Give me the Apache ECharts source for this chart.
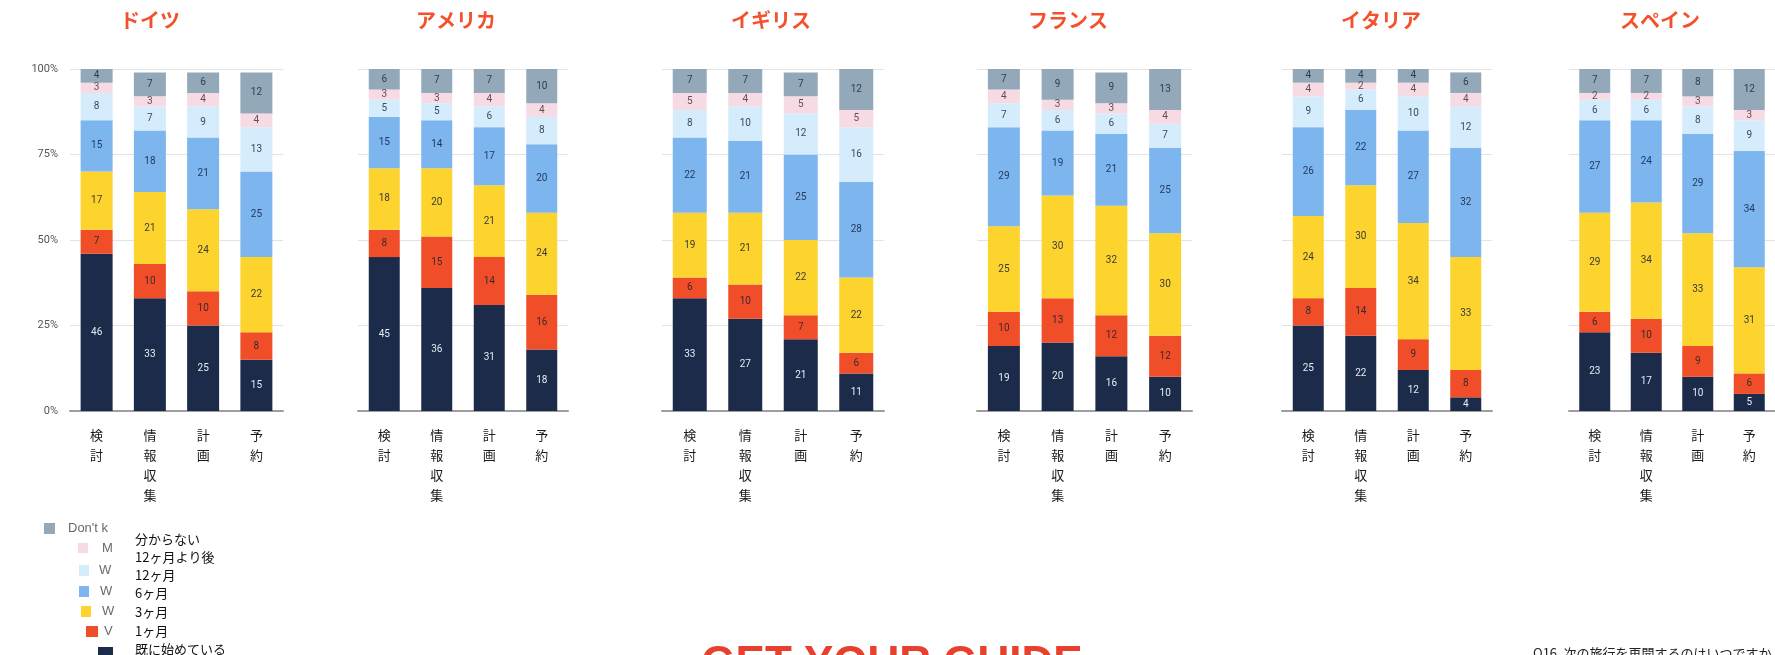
<!DOCTYPE html>
<html>
<head>
<meta charset="utf-8">
<script src="https://cdn.jsdelivr.net/npm/echarts@6/dist/echarts.min.js"></script>
<style>
  html, body { margin: 0; padding: 0; background: #ffffff; }
  #chart { width: 1775px; height: 655px; }
</style>
</head>
<body>
<div id="chart"></div>
<script>
// Survey: when will you resume your next trip, by country and by travel stage (%)
const countries = ['ドイツ', 'アメリカ', 'イギリス', 'フランス', 'イタリア', 'スペイン'];
const stages = ['検討', '情報収集', '計画', '予約'];
const timing = ['既に始めている', '1ヶ月', '3ヶ月', '6ヶ月', '12ヶ月', '12ヶ月より後', '分からない'];
const yTicks = [0, 25, 50, 75, 100];

// Each row: one answer (same order as timing), values for 検討 / 情報収集 / 計画 / 予約
const germany = [
  [46, 33, 25, 15],
  [7, 10, 10, 8],
  [17, 21, 24, 22],
  [15, 18, 21, 25],
  [8, 7, 9, 13],
  [3, 3, 4, 4],
  [4, 7, 6, 12]
];
const usa = [
  [45, 36, 31, 18],
  [8, 15, 14, 16],
  [18, 20, 21, 24],
  [15, 14, 17, 20],
  [5, 5, 6, 8],
  [3, 3, 4, 4],
  [6, 7, 7, 10]
];
const uk = [
  [33, 27, 21, 11],
  [6, 10, 7, 6],
  [19, 21, 22, 22],
  [22, 21, 25, 28],
  [8, 10, 12, 16],
  [5, 4, 5, 5],
  [7, 7, 7, 12]
];
const france = [
  [19, 20, 16, 10],
  [10, 13, 12, 12],
  [25, 30, 32, 30],
  [29, 19, 21, 25],
  [7, 6, 6, 7],
  [4, 3, 3, 4],
  [7, 9, 9, 13]
];
const italy = [
  [25, 22, 12, 4],
  [8, 14, 9, 8],
  [24, 30, 34, 33],
  [26, 22, 27, 32],
  [9, 6, 10, 12],
  [4, 2, 4, 4],
  [4, 4, 4, 6]
];
const spain = [
  [23, 17, 10, 5],
  [6, 10, 9, 6],
  [29, 34, 33, 31],
  [27, 24, 29, 34],
  [6, 6, 8, 9],
  [2, 2, 3, 3],
  [7, 7, 8, 12]
];
const countryData = [germany, usa, uk, france, italy, spain];

// Legend fragments of the English key sitting behind the Japanese one
const englishKey = ["Don't k", 'M', 'W', 'W', 'W', 'V'];

const colors = ['#1c2b4a', '#f04e28', '#fdd32e', '#7db5ee', '#d4ecfb', '#f6dbe4', '#93a8b8'];
const labelColors = ['#e6ebf2', '#3a2a30', '#3a3a3a', '#233a5e', '#3a4a60', '#6a4a55', '#2e3d55'];

const JP = '"Noto Sans CJK JP", "Noto Sans", sans-serif';

// Panel placement (pixels)
const panels = [
  { left: 70, right: 283, title: 150, barW: 32 },
  { left: 358, right: 568, title: 456, barW: 31 },
  { left: 662, right: 884, title: 771, barW: 34 },
  { left: 977, right: 1192, title: 1068, barW: 32 },
  { left: 1282, right: 1492, title: 1381, barW: 31 },
  { left: 1569, right: 1775, title: 1660, barW: 31 }
];
const gridTop = 69, gridHeight = 342;

const grid = [], xAxis = [], yAxis = [], series = [], graphic = [];

panels.forEach((p, i) => {
  grid.push({ left: p.left, top: gridTop, width: p.right - p.left, height: gridHeight });
  xAxis.push({
    type: 'category',
    gridIndex: i,
    data: stages,
    axisLine: { show: true, lineStyle: { color: '#9e9e9e', width: 2 } },
    axisTick: { show: false },
    axisLabel: {
      interval: 0,
      margin: 14,
      color: '#1a1a1a',
      fontSize: 13,
      lineHeight: 20,
      fontFamily: JP,
      formatter: v => v.split('').join('\n')
    }
  });
  yAxis.push({
    type: 'value',
    gridIndex: i,
    min: 0,
    max: 100,
    interval: 25,
    axisLine: { show: false },
    axisTick: { show: false },
    splitLine: { show: true, lineStyle: { color: '#e3e3e3', width: 1 } },
    axisLabel: {
      show: i === 0,
      margin: 12,
      fontSize: 11,
      color: '#555',
      fontFamily: 'Roboto, sans-serif',
      customValues: yTicks,
      formatter: v => v + '%'
    }
  });
  countryData[i].forEach((row, k) => {
    series.push({
      type: 'bar',
      name: timing[k],
      xAxisIndex: i,
      yAxisIndex: i,
      stack: 'c' + i,
      barWidth: p.barW,
      data: row,
      itemStyle: { color: colors[k] },
      label: {
        show: true,
        position: 'inside',
        fontSize: 10,
        color: labelColors[k],
        fontFamily: 'Roboto, sans-serif',
        formatter: d => d.value
      },
      emphasis: { disabled: true }
    });
  });
  graphic.push({
    type: 'text',
    x: p.title,
    y: 20,
    style: {
      text: countries[i],
      fill: '#f4502c',
      font: 'bold 20px ' + JP,
      textAlign: 'center',
      textVerticalAlign: 'middle',
      align: 'center',
      verticalAlign: 'middle'
    }
  });
});

// Key: colour squares with the English fragments, Japanese names beside them
const keySquares = [
  { x: 44, y: 523, w: 11, h: 11 },
  { x: 78, y: 543, w: 10, h: 10 },
  { x: 79, y: 565, w: 10, h: 11 },
  { x: 79, y: 586, w: 10, h: 11 },
  { x: 81, y: 606, w: 10, h: 11 },
  { x: 86, y: 626, w: 12, h: 11 },
  { x: 98, y: 647, w: 15, h: 10 }
];
const keyColors = colors.slice().reverse();
keySquares.forEach((s, j) => {
  graphic.push({ type: 'rect', shape: { x: s.x, y: s.y, width: s.w, height: s.h }, style: { fill: keyColors[j] } });
});
const englishPos = [[68, 528], [102, 548], [99, 570], [100, 591], [102, 611], [104, 631]];
englishKey.forEach((t, j) => {
  graphic.push({
    type: 'text', x: englishPos[j][0], y: englishPos[j][1],
    style: { text: t, fill: '#6a6a6a', font: '13px Arial, sans-serif', textVerticalAlign: 'middle', verticalAlign: 'middle' }
  });
});
const keyY = [539, 557, 575, 593, 612, 631, 649];
timing.slice().reverse().forEach((t, j) => {
  graphic.push({
    type: 'text', x: 135, y: keyY[j],
    style: { text: t, fill: '#111', font: '13px ' + JP, textVerticalAlign: 'middle', verticalAlign: 'middle' }
  });
});

// Brand mark and question caption at the bottom edge
graphic.push({
  type: 'text', x: 892, y: 643,
  style: { text: 'GET YOUR GUIDE', fill: '#e8402e', font: 'bold 44px "Liberation Sans", Arial, sans-serif',
    textAlign: 'center', align: 'center', textVerticalAlign: 'top', verticalAlign: 'top' }
});
graphic.push({
  type: 'text', x: 1533, y: 647,
  style: { text: 'Q16. 次の旅行を再開するのはいつですか', fill: '#222', font: '13px ' + JP,
    textVerticalAlign: 'top', verticalAlign: 'top' }
});

const chart = echarts.init(document.getElementById('chart'), null, { renderer: 'canvas' });
chart.setOption({
  backgroundColor: '#ffffff',
  animation: false,
  grid, xAxis, yAxis, series, graphic
});
</script>
</body>
</html>
